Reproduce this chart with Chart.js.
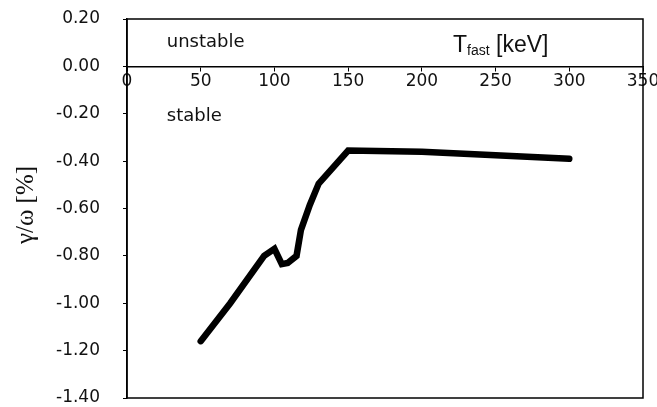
<!DOCTYPE html>
<html>
<head>
<meta charset="utf-8">
<script src="https://cdn.jsdelivr.net/npm/chart.js@4"></script>
<style>
  html, body { margin: 0; padding: 0; background: #fff; }
  #wrap { width: 657px; height: 407px; }
</style>
</head>
<body>
<div id="wrap"><canvas id="growthChart" width="657" height="407"></canvas></div>
<script>
// T_fast [keV] vs growth rate gamma/omega [%]
const tFast = [50, 70, 93, 100, 105, 109, 115, 118, 124, 130, 140, 150, 200, 300];
const growthRate = [-1.16, -1.00, -0.80, -0.77, -0.835, -0.83, -0.80, -0.69, -0.585, -0.495, -0.425, -0.355, -0.36, -0.39];

// axis ticks
const xTicks = [0, 50, 100, 150, 200, 250, 300, 350];
const yTicks = [-1.4, -1.2, -1.0, -0.8, -0.6, -0.4, -0.2, 0.0, 0.2];

// region labels
const regionLabels = [
  { text: 'unstable', x: 27, y: 0.10 },
  { text: 'stable', x: 27, y: -0.21 }
];

const tickFont = { family: 'DejaVu Sans', size: 17 };

// box around plot area + extra texts
const decorPlugin = {
  id: 'decor',
  afterDraw(chart) {
    const { ctx, chartArea: a, scales } = chart;
    ctx.save();
    ctx.strokeStyle = '#000';
    ctx.lineWidth = 1.5;
    ctx.strokeRect(a.left, a.top, a.right - a.left, a.bottom - a.top);

    ctx.fillStyle = '#111';
    ctx.font = '18px "DejaVu Sans"';
    ctx.textBaseline = 'middle';
    ctx.textAlign = 'left';
    regionLabels.forEach(l => {
      ctx.fillText(l.text, scales.x.getPixelForValue(l.x), scales.y.getPixelForValue(l.y));
    });

    // x axis title T_fast [keV]
    let px = 453, py = 46;
    ctx.font = '23px "Liberation Sans"';
    ctx.fillText('T', px, py);
    px += ctx.measureText('T').width;
    ctx.font = '14px "Liberation Sans"';
    ctx.fillText('fast', px, py + 5);
    px += ctx.measureText('fast').width;
    ctx.font = '23px "Liberation Sans"';
    ctx.fillText(' [keV]', px, py);

    // y axis title
    ctx.translate(26, 205);
    ctx.rotate(-Math.PI / 2);
    ctx.textAlign = 'center';
    ctx.font = '25px "Liberation Serif"';
    ctx.fillText('\u03b3/\u03c9 [%]', 0, 0);
    ctx.restore();
  }
};

const ctx = document.getElementById('growthChart').getContext('2d');
const myChart = new Chart(ctx, {
  type: 'line',
  data: {
    datasets: [{
      data: tFast.map((t, i) => ({ x: t, y: growthRate[i] })),
      borderColor: '#000',
      borderWidth: 6.5,
      borderCapStyle: 'round',
      borderJoinStyle: 'miter',
      pointRadius: 0,
      tension: 0,
      fill: false
    }]
  },
  options: {
    responsive: false,
    animation: false,
    layout: { padding: { left: 0, top: 19, right: 14, bottom: 9 } },
    plugins: { legend: { display: false }, tooltip: { enabled: false } },
    scales: {
      x: {
        type: 'linear',
        position: { y: 0 },
        min: 0,
        max: 350,
        afterBuildTicks: s => { s.ticks = xTicks.map(v => ({ value: v })); },
        afterFit: s => { s.paddingLeft = 0; s.paddingRight = 0; s.paddingTop = 0; s.paddingBottom = 0; },
        ticks: { color: '#111', font: tickFont, padding: 1, maxRotation: 0 },
        grid: { display: true, drawOnChartArea: false, tickLength: 4, color: '#000' },
        border: { color: '#000', width: 1.5 }
      },
      y: {
        min: -1.4,
        max: 0.2,
        afterBuildTicks: s => { s.ticks = yTicks.map(v => ({ value: v })); },
        afterFit: s => { s.width = 127; s.paddingTop = 0; s.paddingBottom = 0; },
        ticks: {
          color: '#111',
          font: tickFont,
          padding: 23,
          callback: v => v.toFixed(2)
        },
        grid: { display: true, drawOnChartArea: false, tickLength: 4, color: '#000' },
        border: { color: '#000', width: 1.5 }
      }
    }
  },
  plugins: [decorPlugin]
});
</script>
</body>
</html>
